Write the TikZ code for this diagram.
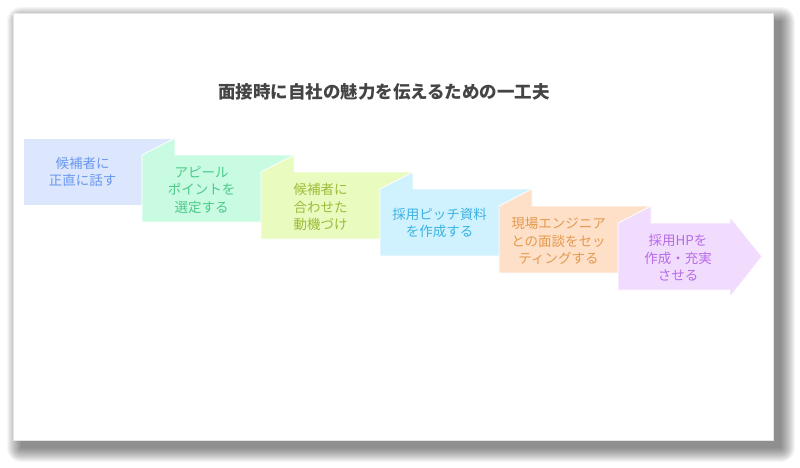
\documentclass[tikz,border=0pt]{standalone}
\usepackage{fontspec}
\setmainfont{Noto Sans CJK JP}
\usetikzlibrary{calc}
\definecolor{FilledSurfaceStepOne}{HTML}{DCE7FD}
\definecolor{FilledSurfaceStepTwo}{HTML}{C9FBE2}
\definecolor{FilledSurfaceStepThree}{HTML}{E9FBBE}
\definecolor{FilledSurfaceStepFour}{HTML}{D0F2FE}
\definecolor{FilledSurfaceStepFive}{HTML}{FEDFC8}
\definecolor{FilledSurfaceStepSix}{HTML}{F1DCFE}
\definecolor{TextStepOne}{HTML}{6A97EE}
\definecolor{TextStepTwo}{HTML}{4CC98A}
\definecolor{TextStepThree}{HTML}{9DBB3A}
\definecolor{TextStepFour}{HTML}{3DB3E3}
\definecolor{TextStepFive}{HTML}{E49A4E}
\definecolor{TextStepSix}{HTML}{B76BE8}
\definecolor{TitleText}{HTML}{444444}
\tikzset{
    stepedge/.style={draw=white, line width=0.8pt},
    steplabel/.style={align=center, font=\fontsize{13.5}{17.5}\selectfont},
}

\begin{document}
\begin{tikzpicture}[x=1pt, y=-1pt]
    \useasboundingbox (0, 0) rectangle (800, 468);
    \fill[white] (0, 0) rectangle (800, 468);

    % Sombra de la tarjeta
    \foreach \r in {14,13,...,0}
        \fill[black, opacity=0.035, rounded corners=\r] (21-\r, 21-\r) rectangle (781+\r, 448+\r);

    \fill[white, draw=black!10, line width=0.5pt] (13, 13) rectangle (773, 440);

    \coordinate (A) at (23, 138);
    \coordinate (B) at (142, 155);
    \coordinate (C) at (261, 172);
    \coordinate (D) at (380, 189);
    \coordinate (E) at (499, 206);
    \coordinate (F) at (618, 223);

    \filldraw[FilledSurfaceStepOne, stepedge] (A) rectangle ++(152, 67);
    \filldraw[FilledSurfaceStepTwo, stepedge]
    (B) -- ++(33, -17) -- ++(0, 17) -- ++(119, 0) -- ++(0, 67) -- ++(-152, 0) -- cycle;
    \filldraw[FilledSurfaceStepThree, stepedge]
    (C) -- ++(33, -17) -- ++(0, 17) -- ++(119, 0) -- ++(0, 67) -- ++(-152, 0) -- cycle;
    \filldraw[FilledSurfaceStepFour, stepedge]
    (D) -- ++(33, -17) -- ++(0, 17) -- ++(119, 0) -- ++(0, 67) -- ++(-152, 0) -- cycle;
    \filldraw[FilledSurfaceStepFive, stepedge]
    (E) -- ++(33, -17) -- ++(0, 17) -- ++(119, 0) -- ++(0, 67) -- ++(-152, 0) -- cycle;
    \filldraw[FilledSurfaceStepSix, stepedge]
    (F) -- ++(33, -17) -- ++(0, 17) -- ++(79, 0) -- ++(0, -6) -- ++(32, 39.5)
    -- ++(-32, 40.5) -- ++(0, -7) -- ++(-112, 0) -- cycle;

    \node[font=\fontsize{17.5}{20}\selectfont\bfseries, text=TitleText] (title) at (384, 92)
        {面接時に自社の魅力を伝えるための一工夫};

    \node[steplabel, text=TextStepOne] (s1) at ($(A) + (59.5, 34)$) {候補者に\\正直に話す};
    \node[steplabel, text=TextStepTwo] (s2) at ($(B) + (59.5, 35)$) {アピール\\ポイントを\\選定する};
    \node[steplabel, text=TextStepThree] (s3) at ($(C) + (59.5, 35)$) {候補者に\\合わせた\\動機づけ};
    \node[steplabel, text=TextStepFour] (s4) at ($(D) + (59.5, 34)$) {採用ピッチ資料\\を作成する};
    \node[steplabel, text=TextStepFive] (s5) at ($(E) + (59.5, 35)$) {現場エンジニア\\との面談をセッ\\ティングする};
    \node[steplabel, text=TextStepSix] (s6) at ($(F) + (60, 35)$) {採用HPを\\作成・充実\\させる};
\end{tikzpicture}
\end{document}
